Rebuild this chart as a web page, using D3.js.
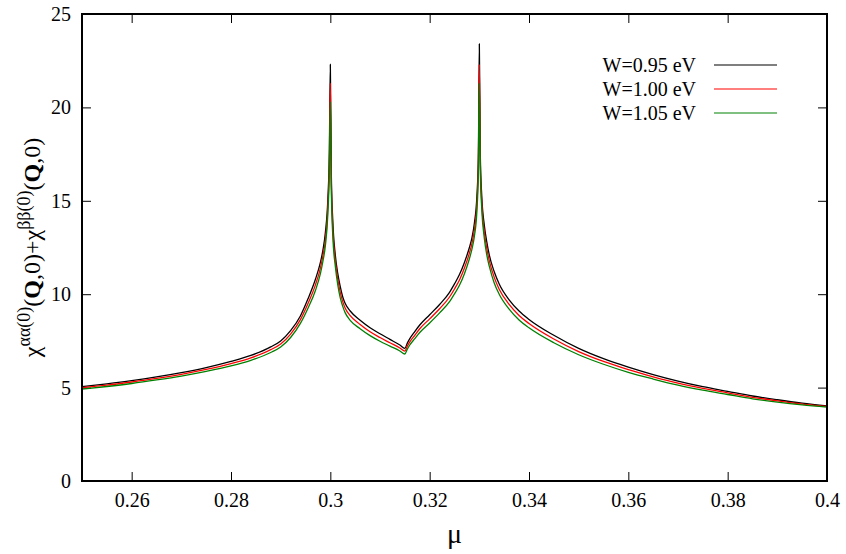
<!DOCTYPE html>
<html>
<head>
<meta charset="utf-8">
<script src="https://cdn.jsdelivr.net/npm/d3@7"></script>
<style>
  body { margin: 0; background: #fff; }
</style>
</head>
<body>
<svg id="chart" width="846" height="554"></svg>
<script>
// chemical potential grid (dense around the two peaks)
var mu = [0.25, 0.255, 0.26, 0.265, 0.27, 0.275, 0.28, 0.284, 0.288, 0.29,
          0.292, 0.294, 0.2955, 0.297, 0.298, 0.2985, 0.299, 0.2995, 0.2998, 0.3,
          0.3002, 0.3005, 0.301, 0.3015, 0.302, 0.3025, 0.303, 0.304, 0.306, 0.308,
          0.31, 0.312, 0.314, 0.315, 0.3155, 0.316, 0.317, 0.318, 0.32, 0.322,
          0.324, 0.325, 0.326, 0.327, 0.328, 0.3285, 0.329, 0.3295, 0.3298, 0.33,
          0.3302, 0.3305, 0.331, 0.3315, 0.332, 0.333, 0.334, 0.336, 0.338, 0.34,
          0.345, 0.35, 0.355, 0.36, 0.365, 0.37, 0.375, 0.38, 0.385, 0.39,
          0.395, 0.4];

// chi values
var chiW095 = [5.05, 5.2, 5.37, 5.57, 5.8, 6.07, 6.4, 6.72, 7.18, 7.5,
               8.05, 8.85, 9.75, 10.8, 11.7, 12.35, 13.3, 15.1, 17.6, 22.3,
               16.4, 13.9, 12.1, 11.1, 10.4, 9.85, 9.5, 9.1, 8.6, 8.2,
               7.88, 7.58, 7.28, 7.1, 7.38, 7.62, 8.0, 8.35, 8.9, 9.45,
               10.1, 10.55, 11.05, 11.7, 12.5, 13.0, 13.8, 15.2, 17.3, 23.4,
               17.4, 15.2, 13.7, 12.8, 12.1, 11.2, 10.55, 9.7, 9.1, 8.65,
               7.8, 7.1, 6.55, 6.1, 5.7, 5.35, 5.05, 4.8, 4.55, 4.35,
               4.17, 4.02];

var chiW100 = [5.0, 5.13, 5.3, 5.49, 5.71, 5.97, 6.28, 6.59, 7.03, 7.33,
               7.86, 8.65, 9.5, 10.5, 11.4, 12.05, 12.9, 14.7, 17.1, 21.3,
               16.0, 13.5, 11.8, 10.8, 10.1, 9.6, 9.25, 8.85, 8.38, 7.99,
               7.68, 7.4, 7.12, 6.95, 7.22, 7.45, 7.8, 8.15, 8.68, 9.22,
               9.85, 10.28, 10.76, 11.4, 12.2, 12.7, 13.45, 14.8, 16.9, 22.3,
               17.0, 14.85, 13.35, 12.45, 11.8, 10.9, 10.27, 9.45, 8.86, 8.43,
               7.6, 6.93, 6.4, 5.96, 5.58, 5.24, 4.96, 4.72, 4.48, 4.29,
               4.12, 3.99];

var chiW105 = [4.92, 5.06, 5.22, 5.41, 5.62, 5.87, 6.16, 6.46, 6.88, 7.17,
               7.68, 8.45, 9.25, 10.2, 11.1, 11.75, 12.6, 14.3, 16.6, 20.3,
               15.6, 13.1, 11.5, 10.5, 9.8, 9.35, 9.0, 8.6, 8.15, 7.78,
               7.48, 7.22, 6.96, 6.8, 7.06, 7.28, 7.62, 7.95, 8.46, 9.0,
               9.6, 10.02, 10.48, 11.1, 11.9, 12.4, 13.1, 14.4, 16.5, 21.3,
               16.6, 14.5, 13.0, 12.1, 11.5, 10.6, 10.0, 9.2, 8.62, 8.2,
               7.4, 6.76, 6.25, 5.82, 5.46, 5.13, 4.86, 4.63, 4.4, 4.22,
               4.07, 3.95];

var seriesNames = ["W=0.95 eV", "W=1.00 eV", "W=1.05 eV"];
var seriesColors = ["#000000", "#ff0000", "#008000"];
var xTicks = [0.26, 0.28, 0.3, 0.32, 0.34, 0.36, 0.38, 0.4];
var yTicks = [0, 5, 10, 15, 20, 25];

var serif = "'Liberation Serif', 'Times New Roman', 'DejaVu Serif', serif";

var margin = {top: 14, right: 19, bottom: 73, left: 82};
var width = 846 - margin.left - margin.right;
var height = 554 - margin.top - margin.bottom;

var svg = d3.select("#chart");
var g = svg.append("g")
    .attr("transform", "translate(" + margin.left + "," + margin.top + ")");

var x = d3.scaleLinear().domain([0.25, 0.4]).range([0, width]);
var y = d3.scaleLinear().domain([0, 25]).range([height, 0]);

var fmt = function(d) { return String(+d.toFixed(2)); };

// gnuplot style: ticks pointing inward on all four sides
g.append("g")
    .attr("class", "xAxis")
    .attr("transform", "translate(0," + height + ")")
    .call(d3.axisBottom(x).tickValues(xTicks).tickFormat(fmt)
        .tickSizeInner(-9).tickSizeOuter(0).tickPadding(12));

g.append("g")
    .attr("class", "xAxisTop")
    .call(d3.axisTop(x).tickValues(xTicks).tickFormat("")
        .tickSizeInner(-9).tickSizeOuter(0));

g.append("g")
    .attr("class", "yAxis")
    .call(d3.axisLeft(y).tickValues(yTicks).tickFormat(fmt)
        .tickSizeInner(-9).tickSizeOuter(0).tickPadding(11));

g.append("g")
    .attr("class", "yAxisRight")
    .attr("transform", "translate(" + width + ",0)")
    .call(d3.axisRight(y).tickValues(yTicks).tickFormat("")
        .tickSizeInner(-9).tickSizeOuter(0));

g.selectAll(".domain").remove();
g.selectAll(".tick line").attr("stroke", "#000").attr("stroke-width", 1);
g.selectAll(".tick text")
    .attr("fill", "#000")
    .style("font-family", serif)
    .style("font-size", "20px");

// curves
var line = d3.line()
    .x(function(d) { return x(d[0]); })
    .y(function(d) { return y(d[1]); })
    .curve(d3.curveMonotoneX);

var allSeries = [chiW095, chiW100, chiW105];
allSeries.forEach(function(vals, i) {
    var pts = mu.map(function(m, j) { return [m, vals[j]]; });
    g.append("path")
        .datum(pts)
        .attr("fill", "none")
        .attr("stroke", seriesColors[i])
        .attr("stroke-width", 1.3)
        .attr("d", line);
});

// frame
g.append("rect")
    .attr("width", width)
    .attr("height", height)
    .attr("fill", "none")
    .attr("stroke", "#000")
    .attr("stroke-width", 2);

// legend
var legend = g.append("g").attr("class", "legend");
seriesNames.forEach(function(name, i) {
    var ly = 51 + i * 24;
    legend.append("text")
        .attr("x", 614)
        .attr("y", ly)
        .attr("dy", "0.35em")
        .attr("text-anchor", "end")
        .style("font-family", serif)
        .style("font-size", "20px")
        .text(name);
    legend.append("line")
        .attr("x1", 632).attr("x2", 695)
        .attr("y1", ly).attr("y2", ly)
        .attr("stroke", seriesColors[i])
        .attr("stroke-width", 1.2);
});

// axis labels
svg.append("text")
    .attr("x", margin.left + width / 2)
    .attr("y", 543)
    .attr("text-anchor", "middle")
    .style("font-family", serif)
    .style("font-size", "28px")
    .text("\u03bc");

var ylab = svg.append("text")
    .attr("transform", "translate(40," + (margin.top + height / 2) + ") rotate(-90)")
    .attr("text-anchor", "middle")
    .style("font-family", serif)
    .style("font-size", "24px");

var parts = [
    {t: "\u03c7"}, {t: "\u03b1\u03b1(0)", sup: true},
    {t: "("}, {t: "Q", bold: true}, {t: ",0)+"},
    {t: "\u03c7"}, {t: "\u03b2\u03b2(0)", sup: true},
    {t: "("}, {t: "Q", bold: true}, {t: ",0)"}
];
var prevSup = false;
parts.forEach(function(p) {
    var ts = ylab.append("tspan").text(p.t);
    if (p.sup) {
        ts.attr("dy", "-10").style("font-size", "18px");
    } else if (prevSup) {
        ts.attr("dy", "10");
    }
    if (p.bold) ts.style("font-weight", "bold");
    prevSup = !!p.sup;
});
</script>
</body>
</html>
